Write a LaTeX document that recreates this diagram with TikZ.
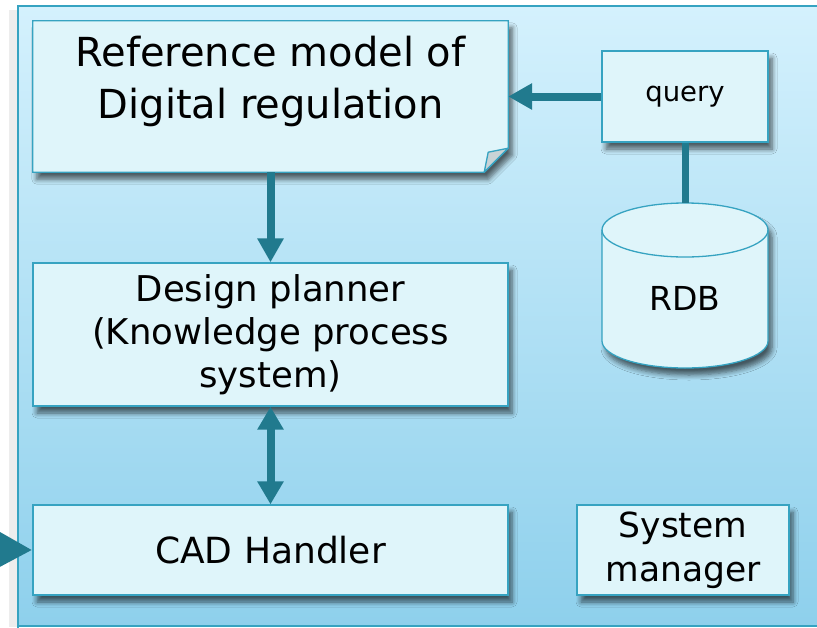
\documentclass[tikz,border=0pt]{standalone}
\usepackage{fontspec}
\setmainfont{DejaVu Sans}
\usetikzlibrary{arrows.meta,shadows.blur}

\definecolor{panelTop}{HTML}{D4F1FD}
\definecolor{panelBot}{HTML}{8ED0EC}
\definecolor{boxFill}{HTML}{DFF5FA}
\definecolor{boxLine}{HTML}{36A3C1}
\definecolor{arrowC}{HTML}{217A8E}
\definecolor{foldC}{HTML}{C8D3D6}

\tikzset{
  softshadow/.style={blur shadow={shadow xshift=4pt, shadow yshift=-7pt,
      shadow blur steps=6, shadow blur radius=5pt, shadow opacity=60}},
  box/.style={draw=boxLine, fill=boxFill, line width=1.3pt, softshadow,
      align=center, inner sep=0pt, text=black},
  ghost/.style={inner sep=0pt, draw=none, fill=none},
  arr/.style={draw=arrowC, line width=8pt, -{Triangle[width=25pt,length=24pt]}},
  dblarr/.style={draw=arrowC, line width=8pt,
      {Triangle[width=25pt,length=23pt]}-{Triangle[width=25pt,length=23pt]}},
  bigarr/.style={draw=arrowC, line width=10pt, -{Triangle[width=36pt,length=36pt]}},
  link/.style={draw=arrowC, line width=7pt},
}

\begin{document}
\begin{tikzpicture}[x=1pt, y=-1pt]
\useasboundingbox (0,0) rectangle (817,627);
\clip (0,0) rectangle (817,627);

% page background and panel
\fill[white] (0,0) rectangle (817,627);
\fill[black!7] (9,10) rectangle (18,627);
\shade[top color=panelTop, bottom color=panelBot] (18,6) rectangle (840,626);
\draw[boxLine, line width=1.5pt] (18,640) -- (18,6) -- (840,6);
\draw[boxLine, line width=1.5pt] (18,626) -- (840,626);

% reference model: note with a folded corner
\node[ghost, minimum width=475pt, minimum height=151pt] (ref) at (270.5,96.5) {};
\path[box] (ref.north west) -- (ref.north east) -- ([yshift=24pt]ref.south east)
  -- ([xshift=-24pt]ref.south east) -- (ref.south west) -- cycle;
\filldraw[fill=foldC, draw=boxLine, line width=1.3pt, line join=round]
  ([yshift=24pt]ref.south east) -- ([shift={(-20pt,20pt)}]ref.south east)
  -- ([xshift=-24pt]ref.south east) -- cycle;
\node[align=center, font=\fontsize{40}{52}\selectfont] (reftitle) at (270.5,81)
  {Reference model of\\Digital regulation};

% query box
\node[box, minimum width=166pt, minimum height=91pt,
      font=\fontsize{27.5}{33}\selectfont] (query) at (685,96.5) {query};

% relational database cylinder
\node[ghost, minimum width=166pt, minimum height=165pt] (rdb) at (685,285.5) {};
\path[box] (602,230) -- (602,341) arc[start angle=180, end angle=360,
    x radius=83pt, y radius=27pt] -- (768,230) arc[start angle=0, end angle=180,
    x radius=83pt, y radius=27pt] -- cycle;
\draw[boxLine, line width=1.3pt] (602,230) arc[start angle=180, end angle=360,
    x radius=83pt, y radius=27pt];
\node[font=\fontsize{33}{40}\selectfont] (rdblabel) at (685,298) {RDB};

% design planner
\node[box, minimum width=475pt, minimum height=143pt,
      font=\fontsize{35.5}{43}\selectfont] (plan) at (270.5,334.5)
  {Design planner\\(Knowledge process\\system)};

% CAD handler
\node[box, minimum width=475pt, minimum height=90pt,
      font=\fontsize{36}{43}\selectfont] (cad) at (270.5,550) {CAD Handler};

% system manager
\node[box, minimum width=212pt, minimum height=90pt,
      font=\fontsize{34.5}{44}\selectfont] (sysman) at (683,550)
  {System\\manager};

% connectors
\coordinate (incoming) at (-40,549);
\draw[arr] (ref.south) -- (plan.north);
\draw[dblarr] (plan.south) -- (cad.north);
\draw[arr] (query.west) -- (ref.east);
\draw[link] (query.south) -- (rdb.north);
\draw[bigarr] (incoming) -- (cad.west);
\end{tikzpicture}
\end{document}
